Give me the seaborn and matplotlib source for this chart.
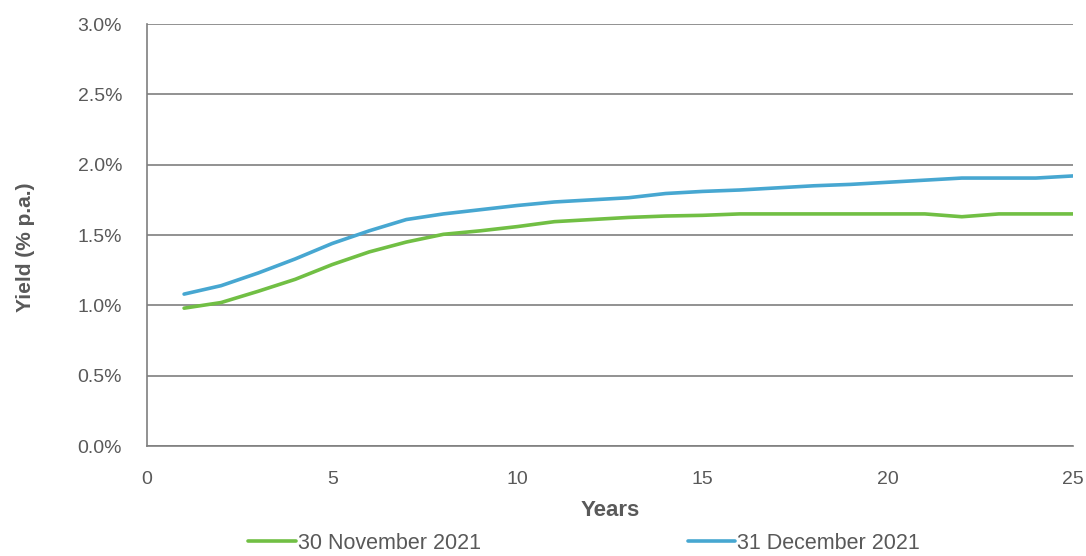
import numpy as np
import pandas as pd
import seaborn as sns
import matplotlib.pyplot as plt
from matplotlib.ticker import FuncFormatter

sns.set_style("white")
plt.rcParams['font.family'] = ['Liberation Sans', 'DejaVu Sans']

# Years to maturity and yields (% p.a.)
years = list(range(1, 26))
nov_2021 = [0.98, 1.02, 1.10, 1.185, 1.29, 1.38, 1.45, 1.505, 1.53, 1.56,
            1.595, 1.61, 1.625, 1.635, 1.64, 1.65, 1.65, 1.65, 1.65, 1.65,
            1.65, 1.63, 1.65, 1.65, 1.65]
dec_2021 = [1.08, 1.14, 1.23, 1.33, 1.44, 1.53, 1.61, 1.65, 1.68, 1.71,
            1.735, 1.75, 1.765, 1.795, 1.81, 1.82, 1.835, 1.85, 1.86, 1.875,
            1.89, 1.905, 1.905, 1.905, 1.92]
series_names = ["30 November 2021", "31 December 2021"]
colors = ["#71BF44", "#47A7D1"]

df = pd.concat([
    pd.DataFrame({"Years": years, "Yield": nov_2021, "Series": series_names[0]}),
    pd.DataFrame({"Years": years, "Yield": dec_2021, "Series": series_names[1]}),
])

fig, ax = plt.subplots(figsize=(10.86, 5.56), dpi=100)
fig.subplots_adjust(left=0.1354, right=0.988, bottom=0.1978, top=0.9568)

sns.lineplot(data=df, x="Years", y="Yield", hue="Series",
             palette=dict(zip(series_names, colors)), linewidth=2.6, ax=ax)

text_col = "#595959"
axis_col = "#7f7f7f"
ax.set_xlim(0, 25)
ax.set_ylim(0, 3.0)
ax.set_xticks([0, 5, 10, 15, 20, 25])
ax.set_yticks(np.arange(0, 3.01, 0.5))
ax.yaxis.set_major_formatter(FuncFormatter(lambda v, p: f"{v:.1f}%"))
ax.grid(axis="y", color=axis_col, linewidth=1.2)
ax.set_axisbelow(True)
for s in ["top", "right"]:
    ax.spines[s].set_visible(False)
for s in ["left", "bottom"]:
    ax.spines[s].set_color(axis_col)
    ax.spines[s].set_linewidth(1.2)
ax.tick_params(axis="y", direction="out", length=7, color=axis_col, width=1.2,
               labelsize=14, labelcolor=text_col, pad=11)
ax.tick_params(axis="x", direction="out", length=5, color=axis_col, width=1.2,
               labelsize=14, labelcolor=text_col, pad=13)
ax.set_xlabel("Years", fontsize=16, fontweight="bold", color=text_col)
ax.set_ylabel("Yield (% p.a.)", fontsize=15, fontweight="bold", color=text_col)
ax.xaxis.set_label_coords(0.5, -0.128)
ax.yaxis.set_label_coords(-0.121, 0.47)

ax.legend(loc="center", bbox_to_anchor=(0.472, -0.23), ncol=2, frameon=False,
          fontsize=15.5, labelcolor=text_col, handlelength=2.2, handletextpad=0.1,
          columnspacing=9.6)

plt.savefig("out.png", dpi=100)
